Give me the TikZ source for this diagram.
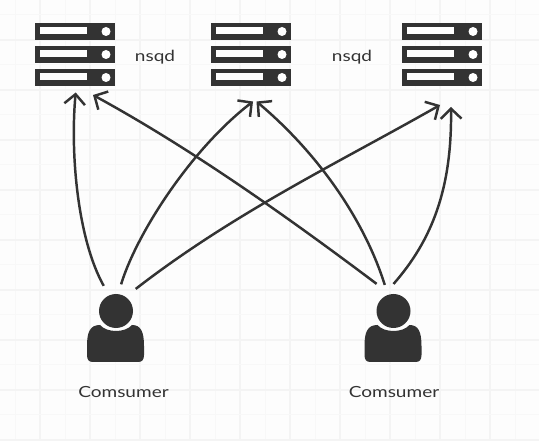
\documentclass[tikz,border=0pt]{standalone}
\usepackage{fontspec}
\setmainfont{Lato}[FakeStretch=1.24]
\usetikzlibrary{arrows.meta}
\definecolor{inkdark}{HTML}{333333}
\definecolor{paper}{HTML}{FDFDFD}
\definecolor{gridmajor}{HTML}{F4F4F4}
\definecolor{gridminor}{HTML}{F8F8F8}
\tikzset{
  label/.style={text=inkdark,font=\fontsize{11.5}{14}\selectfont,inner sep=0pt},
  link/.style={draw=inkdark,line width=1.85pt,-{Straight Barb[length=7.5pt,width=15.5pt,line width=1.85pt]}},
  area/.style={draw=none,inner sep=0pt,outer sep=0pt,rectangle,minimum width=60pt,minimum height=47.25pt},
  userarea/.style={draw=none,inner sep=0pt,outer sep=0pt,circle,minimum size=63pt}
}
% one stack of three rows
\newcommand{\serverstack}[1]{
  \foreach \rowy in {31.5,54.5,77.5}{
    \fill[inkdark] (#1-40,\rowy-8.5) rectangle (#1+40,\rowy+8.5);
    \fill[white] (#1-35,\rowy-4) rectangle (#1+11.5,\rowy+3);
    \fill[white] (#1+31,\rowy) circle (4.5);
  }
}
\newcommand{\personshape}[1]{
  \fill[inkdark] (#1,311) circle (17);
  \fill[inkdark] (#1-29,346) .. controls (#1-29,332) and (#1-26,325) .. (#1-16,325)
    .. controls (#1-9,333) and (#1+9,333) .. (#1+16,325)
    .. controls (#1+25,325) and (#1+28,332) .. (#1+28,346)
    -- (#1+28,355) .. controls (#1+28,360) and (#1+26,362) .. (#1+22,362)
    -- (#1-23,362) .. controls (#1-27,362) and (#1-29,360) .. (#1-29,355) -- cycle;
}
\begin{document}
\begin{tikzpicture}[x=0.75pt,y=-0.75pt]
  \useasboundingbox (0,0) rectangle (539,441);
  \fill[paper] (0,0) rectangle (539,441);
  % light and strong grid lines take turns
  \foreach \gx in {0,...,10}{
    \draw[gridminor,line width=0.75pt] (15+50*\gx,0) -- (15+50*\gx,441);
    \draw[gridmajor,line width=1.4pt] (40+50*\gx,0) -- (40+50*\gx,441);
  }
  \foreach \gy in {0,...,8}{
    \draw[gridminor,line width=0.75pt] (0,15+50*\gy) -- (539,15+50*\gy);
    \draw[gridmajor,line width=1.4pt] (0,40+50*\gy) -- (539,40+50*\gy);
  }

  \serverstack{75}
  \serverstack{251}
  \serverstack{442}
  \personshape{116}
  \personshape{393.5}

  \node[area] (serverA) at (75,57.5) {};
  \node[area] (serverB) at (251,57.5) {};
  \node[area] (serverC) at (442,57.5) {};
  \node[userarea] (userA) at (116,326) {};
  \node[userarea] (userB) at (393.5,326) {};

  \node[label] (nsqdA) at (155,57) {nsqd};
  \node[label] (nsqdB) at (352,57) {nsqd};
  \node[label] (nameA) at (123.5,392) {Comsumer};
  \node[label] (nameB) at (394,392) {Comsumer};

  \coordinate (tipAA) at (75.7,92.5);
  \coordinate (tipAB) at (93,95);
  \coordinate (tipBA) at (253,101.5);
  \coordinate (tipBB) at (256.5,101.5);
  \coordinate (tipCA) at (440,105);
  \coordinate (tipCB) at (451,107);

  \draw[link] (userA.107) .. controls (78,240) and (70,155) .. (tipAA);
  \draw[link] (userA.83) .. controls (136,235) and (190,150) .. (tipBA);
  \draw[link] (userA.62) .. controls (235,212) and (340,162) .. (tipCA);
  \draw[link,shorten <=3pt] (userB.109) .. controls (285,215) and (190,148) .. (tipAB);
  \draw[link] (userB.102) .. controls (365,222) and (320,155) .. (tipBB);
  \draw[link] (userB.90) .. controls (432,240) and (452,189) .. (tipCB);
\end{tikzpicture}
\end{document}
